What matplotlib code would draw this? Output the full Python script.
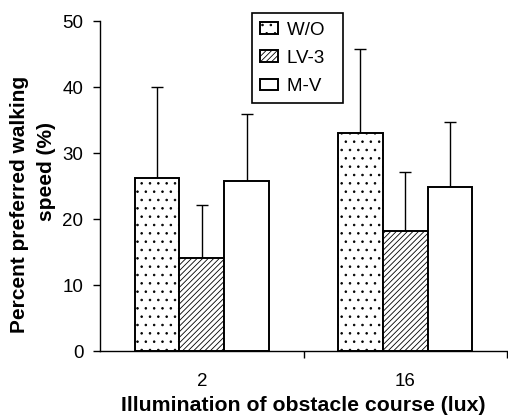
import matplotlib
matplotlib.use("Agg")
import matplotlib.pyplot as plt
import matplotlib.patches as mpatches
from matplotlib.legend_handler import HandlerPatch
import numpy as np

plt.rcParams["font.family"] = ["Liberation Sans", "DejaVu Sans"]
plt.rcParams["hatch.linewidth"] = 0.6

# dados
groups = ["2", "16"]
series = ["W/O", "LV-3", "M-V"]
means = {
    "W/O": [26.2, 33.1],
    "LV-3": [14.1, 18.2],
    "M-V": [25.8, 24.8],
}
sds = {
    "W/O": [13.8, 12.6],
    "LV-3": [8.0, 8.9],
    "M-V": [10.1, 9.9],
}
hatches = {"W/O": "..", "LV-3": "//////", "M-V": ""}


def _quadrado(legend, orig_handle, xdescent, ydescent, width, height, fontsize):
    # quadradinho encostado à direita da área do handle
    return mpatches.Rectangle((width - height - xdescent, -ydescent), height, height)


fig = plt.figure(figsize=(5.08, 4.18), dpi=100)
ax = fig.add_axes([100 / 508, 1 - 351 / 418, 407 / 508, 330 / 418])

x = np.arange(len(groups))
w = 0.22
for i, s in enumerate(series):
    pos = x + (i - 1) * w
    ax.bar(pos, means[s], w, color="white", edgecolor="black", linewidth=1.4,
           hatch=hatches[s], label=s + "  ", zorder=2)
    ax.errorbar(pos, means[s], yerr=[np.zeros(len(groups)), sds[s]], fmt="none",
                ecolor="black", elinewidth=1.0, capsize=4, capthick=1.0, zorder=1)

ax.set_xlim(-0.5, 1.5)
ax.set_ylim(0, 50)
ax.set_yticks([0, 10, 20, 30, 40, 50])
ax.set_xticks(x)
ax.set_xticklabels(groups)
ax.set_xticks([0.5, 1.5], minor=True)
ax.tick_params(axis="x", which="major", length=0, pad=15.5, labelsize=13.5)
ax.tick_params(axis="x", which="minor", length=5, direction="out", width=1)
ax.tick_params(axis="y", length=5, direction="out", width=1, labelsize=13.5, pad=7)
for sp in ["top", "right"]:
    ax.spines[sp].set_visible(False)
ax.spines["left"].set_linewidth(1)
ax.spines["bottom"].set_linewidth(1)

# rótulo do eixo y em duas linhas, como no original (não centralizadas entre si)
fig.text(20 / 508, 1 - 204 / 418, "Percent preferred walking", rotation=90,
         fontsize=15, fontweight="bold", ha="center", va="center")
fig.text(47 / 508, 1 - 172 / 418, "speed (%)", rotation=90,
         fontsize=15, fontweight="bold", ha="center", va="center")
ax.set_xlabel("Illumination of obstacle course (lux)", fontsize=15.3, fontweight="bold",
              labelpad=5)

leg = ax.legend(loc="upper left", bbox_to_anchor=(152 / 407, 1.024), fontsize=13.5,
                handlelength=0.95, handleheight=0.55, handletextpad=0.45,
                labelspacing=0.6, borderpad=0.45, borderaxespad=0, fancybox=False,
                framealpha=1, edgecolor="black",
                handler_map={mpatches.Rectangle: HandlerPatch(patch_func=_quadrado)})
leg.get_frame().set_linewidth(1.2)

fig.savefig("out.png", dpi=100)
